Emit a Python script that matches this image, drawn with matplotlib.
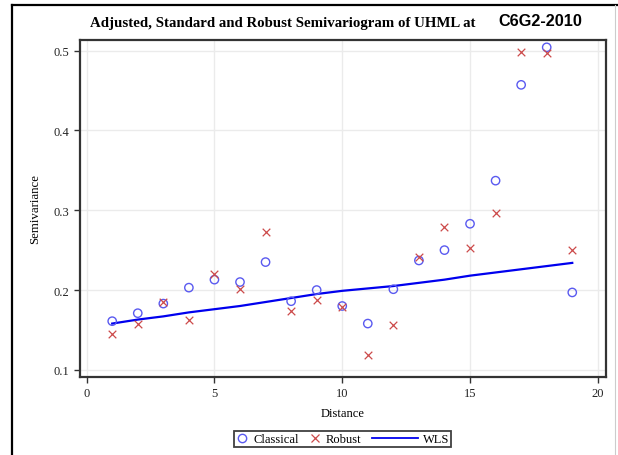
import matplotlib
matplotlib.use("Agg")
import matplotlib.pyplot as plt
from matplotlib.legend_handler import HandlerLine2D
from matplotlib.lines import Line2D

# ---- data ----
lags = list(range(1, 20))
classical = [0.161, 0.171, 0.183, 0.203, 0.213, 0.210, 0.235, 0.186, 0.200, 0.180,
             0.158, 0.201, 0.237, 0.250, 0.283, 0.337, 0.457, 0.504, 0.197]
robust = [0.145, 0.158, 0.185, 0.162, 0.220, 0.201, 0.273, 0.174, 0.187, 0.179,
          0.119, 0.156, 0.242, 0.279, 0.253, 0.297, 0.498, 0.497, 0.250]
wls = [0.158, 0.163, 0.167, 0.172, 0.176, 0.180, 0.185, 0.190, 0.195, 0.199,
       0.202, 0.205, 0.209, 0.213, 0.218, 0.222, 0.226, 0.230, 0.234]
xticks = [0, 5, 10, 15, 20]
yticks = [0.1, 0.2, 0.3, 0.4, 0.5]

SERIF = ["Liberation Serif", "DejaVu Serif"]
SANS = ["Liberation Sans", "DejaVu Sans"]

W, H = 618, 456
fig = plt.figure(figsize=(W / 100, H / 100), dpi=100)

# axes placement (pixels -> fractions)
L, R, T, B = 80, 606, 40.5, 377.5
ax = fig.add_axes([L / W, 1 - B / H, (R - L) / W, (B - T) / H])

ax.set_xlim(-0.26, 20.32)
ax.set_ylim(0.0917, 0.5138)
ax.set_xticks(xticks)
ax.set_yticks(yticks)
ax.set_xticklabels([str(v) for v in xticks], fontfamily=SERIF, fontsize=9)
ax.set_yticklabels([f"{v:.1f}" for v in yticks], fontfamily=SERIF, fontsize=9)
ax.tick_params(direction="out", length=4.5, width=1.0, color="#333333",
               labelcolor="#222222", pad=3)
ax.grid(True, color="#ebebeb", linewidth=1.0)
ax.set_axisbelow(True)
for s in ax.spines.values():
    s.set_color("#333333")
    s.set_linewidth(1.6)

ax.plot(lags, wls, color="#0000ee", linewidth=1.6, zorder=3, label="WLS")
ax.scatter(lags, classical, marker="o", s=36, facecolors="none",
           edgecolors="#5a5af0", linewidths=1.0, zorder=4, label="Classical")
ax.scatter(lags, robust, marker="x", s=30, color="#cc4a4a",
           linewidths=0.9, zorder=4, label="Robust")

ax.set_xlabel("Distance", fontfamily=SERIF, fontsize=9, labelpad=6)
ax.set_ylabel("Semivariance", fontfamily=SERIF, fontsize=9.3, labelpad=9)

# title: serif part + sans part
fig.text(476 / W, 1 - 23 / H, "Adjusted, Standard and Robust Semivariogram of UHML at",
         ha="right", va="center", fontfamily=SERIF, fontweight="bold", fontsize=10.7)
fig.text(498 / W, 1 - 22 / H, "C6G2-2010", ha="left", va="center",
         fontfamily=SANS, fontweight="bold", fontsize=11.7)


class WideLine(HandlerLine2D):
    def legend_artist(self, legend, orig_handle, fontsize, handlebox):
        handlebox.width = handlebox.width * 3.7
        return super().legend_artist(legend, orig_handle, fontsize, handlebox)


h_c = Line2D([], [], linestyle="none", marker="o", markersize=6,
             markerfacecolor="none", markeredgecolor="#5a5af0", markeredgewidth=1.0)
h_r = Line2D([], [], linestyle="none", marker="x", markersize=5.5,
             color="#cc4a4a", markeredgewidth=0.9)
h_w = Line2D([], [], color="#0000ee", linewidth=1.3)
leg = fig.legend([h_c, h_r, h_w], ["Classical", "Robust", "WLS"],
                 loc="center", bbox_to_anchor=(342.5 / W, 1 - 440 / H),
                 ncol=3, frameon=True, fancybox=False, shadow=False,
                 handlelength=1.0, handletextpad=0.4, columnspacing=0.8,
                 borderpad=0.15, borderaxespad=0,
                 prop={"family": SERIF, "size": 9},
                 handler_map={h_w: WideLine()})
leg.get_frame().set_edgecolor("#111111")
leg.get_frame().set_linewidth(1.3)

# outer border lines
fig.add_artist(Line2D([12 / W, 12 / W], [0, 1 - 6 / H], transform=fig.transFigure,
                      color="black", linewidth=1.6))
fig.add_artist(Line2D([12 / W, 1], [1 - 6 / H, 1 - 6 / H], transform=fig.transFigure,
                      color="black", linewidth=1.6))
fig.add_artist(Line2D([615 / W, 615 / W], [0, 1 - 6 / H], transform=fig.transFigure,
                      color="#cccccc", linewidth=0.8))

fig.savefig("out.png", dpi=100)
